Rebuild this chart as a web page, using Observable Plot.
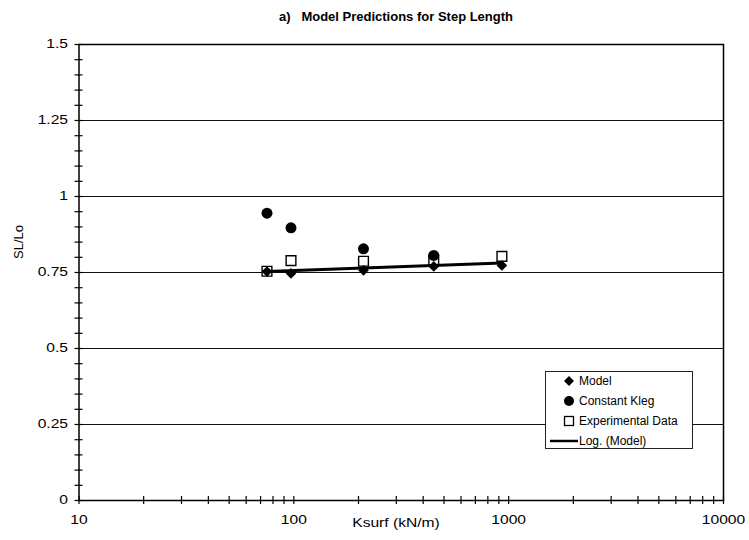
<!DOCTYPE html>
<html><head><meta charset="utf-8">
<script src="https://cdn.jsdelivr.net/npm/d3@7"></script>
<script src="https://cdn.jsdelivr.net/npm/@observablehq/plot@0.6"></script>
<style>
body{margin:0;background:#fff;font-family:"Liberation Sans",Arial,sans-serif;color:#000;}
#wrap{position:relative;width:749px;height:540px;overflow:hidden;}
.abs{position:absolute;white-space:nowrap;}
#title{left:396px;top:9px;transform:translateX(-50%);font-weight:bold;font-size:13px;}
#ylab{left:18px;top:242px;transform:translate(-50%,-50%) rotate(-90deg);font-size:13px;}
#xlab{left:396px;top:515px;transform:translateX(-50%) scaleX(1.2);font-size:13px;}
#legend{left:545px;top:371px;width:146px;height:76px;border:1px solid #222;background:#fff;font-size:12px;}
.row{position:absolute;left:0;height:18px;line-height:18px;}
.row svg{position:absolute;top:0;}
.row span{position:absolute;left:33px;top:0;}
</style></head><body>
<div id="wrap">
  <div id="plot"></div>
  <div class="abs" id="title">a)&nbsp;&nbsp;&nbsp;Model Predictions for Step Length</div>
  <div class="abs" id="ylab">SL/Lo</div>
  <div class="abs" id="xlab">Ksurf (kN/m)</div>
  <div class="abs" id="legend"></div>
</div>
<script>
// ---- data ----
const ksurf = [75, 97, 211, 448, 930];
const modelSL = [0.753, 0.747, 0.757, 0.770, 0.773];
const klegKsurf = [75, 97, 211, 448];
const constantKlegSL = [0.945, 0.897, 0.828, 0.806];
const experimentalSL = [0.754, 0.789, 0.787, 0.791, 0.803];
const trendKsurf = [75, 930];
const trendSL = [0.753, 0.781];
const yTicks = [0, 0.25, 0.5, 0.75, 1, 1.25, 1.5];
const yGrid = [0.25, 0.5, 0.75, 1, 1.25];
const yMinor = d3.range(0, 31).map(i => i * 0.05);
const xTicks = [10, 100, 1000, 10000];
const xMinor = [10,20,30,40,50,60,70,80,90,100,200,300,400,500,600,700,800,900,1000,2000,3000,4000,5000,6000,7000,8000,9000,10000];
const legendLabels = ["Model", "Constant Kleg", "Experimental Data", "Log. (Model)"];

const model = ksurf.map((k, i) => ({k, v: modelSL[i]}));
const kleg = klegKsurf.map((k, i) => ({k, v: constantKlegSL[i]}));
const exper = ksurf.map((k, i) => ({k, v: experimentalSL[i]}));
const trend = trendKsurf.map((k, i) => ({k, v: trendSL[i]}));

const chart = Plot.plot({
  width: 749, height: 540,
  marginTop: 44, marginBottom: 40, marginLeft: 78.5, marginRight: 26,
  style: {fontFamily: "Liberation Sans, Arial, sans-serif", fontSize: "12px", color: "#000", background: "#fff"},
  x: {type: "log", domain: [10, 10000]},
  y: {domain: [0, 1.5]},
  marks: [
    Plot.ruleY(yGrid, {stroke: "#111", strokeWidth: 1}),
    Plot.frame({stroke: "#000", strokeWidth: 1.5}),
    Plot.ruleY(yMinor, {y: d => d, x1: 10, x2: 10, insetLeft: -4, insetRight: -4, stroke: "#000", strokeWidth: 1.2}),
    Plot.ruleX(xMinor, {x: d => d, y1: 0, y2: 0, insetTop: -4, insetBottom: -4, stroke: "#000", strokeWidth: 1.2}),
    Plot.axisY({ticks: yTicks, tickSize: 0, tickPadding: 11, tickFormat: d => String(d), label: null, fontSize: 12}),
    Plot.axisX({ticks: xTicks, tickSize: 0, tickPadding: 15, tickFormat: d => String(d), label: null, fontSize: 12}),
    Plot.dot(exper, {x: "k", y: "v", symbol: "square", r: 5.5, fill: "#fff", stroke: "#000", strokeWidth: 1.4}),
    Plot.line(trend, {x: "k", y: "v", stroke: "#000", strokeWidth: 3}),
    Plot.dot(model, {x: "k", y: "v", symbol: "diamond2", r: 4.8, fill: "#000", stroke: "none"}),
    Plot.dot(kleg, {x: "k", y: "v", r: 5.5, fill: "#000", stroke: "none"})
  ]
});
// widen the tick-label glyphs (the reference's labels are horizontally stretched)
chart.querySelectorAll('g[aria-label$="tick label"] text').forEach(t => {
  const tr = t.getAttribute("transform");
  if (tr && tr.includes("translate")) t.setAttribute("transform", tr + " scale(1.3,1)");
});
document.getElementById("plot").appendChild(chart);

// legend
const lg = document.getElementById("legend");
const symbols = [
  '<svg width="30" height="18"><path d="M23,4 L28,9 L23,14 L18,9 Z" fill="#000"/></svg>',
  '<svg width="30" height="18"><circle cx="23" cy="9" r="5" fill="#000"/></svg>',
  '<svg width="30" height="18"><rect x="18.5" y="4.5" width="9" height="9" fill="#fff" stroke="#000" stroke-width="1.3"/></svg>',
  '<svg width="32" height="18"><line x1="4" y1="9" x2="32" y2="9" stroke="#000" stroke-width="2.5"/></svg>'
];
legendLabels.forEach((lab, i) => {
  const r = document.createElement("div");
  r.className = "row";
  r.style.top = (i * 20 + 0) + "px";
  r.style.width = "146px";
  r.innerHTML = symbols[i] + '<span>' + lab + '</span>';
  lg.appendChild(r);
});
</script>
</body></html>
